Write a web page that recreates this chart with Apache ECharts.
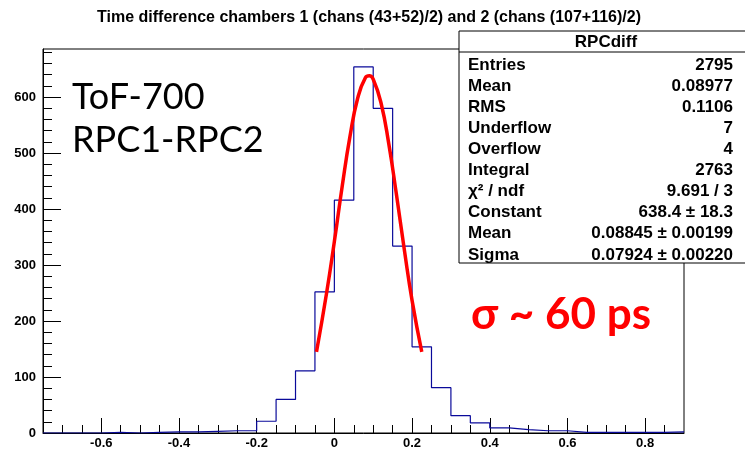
<!DOCTYPE html>
<html>
<head>
<meta charset="utf-8">
<script src="https://cdn.jsdelivr.net/npm/echarts@6/dist/echarts.min.js"></script>
<style>html,body{margin:0;padding:0;background:#fff}#c{width:745px;height:452px}</style>
</head>
<body>
<div id="c"></div>
<script>
// Histogram definition (bins of 0.05 from -0.75 to 0.9)
const xMin = -0.75;
const xMax = 0.9;
const binWidth = 0.05;
const binCounts = [0, 0, 0, 1, 0, 1, 2, 2, 3, 4, 4, 21, 60, 111, 252, 416, 654, 580, 334, 154, 81, 31, 18, 9, 6, 4, 4, 1, 1, 1, 1, 1, 2];
// Gaussian fit curve points
const fitX = [-0.046, -0.02, 0.0, 0.02, 0.04, 0.06, 0.08, 0.09, 0.10, 0.12, 0.14, 0.16, 0.18, 0.20, 0.225];
const fitY = [145, 250, 342, 440, 529, 598, 635, 638, 632, 590, 517, 425, 328, 237, 145];
// Axis tick labels
const xTickLabels = [-0.6, -0.4, -0.2, 0, 0.2, 0.4, 0.6, 0.8];
const xMinorTicks = [-0.75,-0.7,-0.65,-0.6,-0.55,-0.5,-0.45,-0.4,-0.35,-0.3,-0.25,-0.2,-0.15,-0.1,-0.05,0,0.05,0.1,0.15,0.2,0.25,0.3,0.35,0.4,0.45,0.5,0.55,0.6,0.65,0.7,0.75,0.8,0.85];
const yTickLabels = [0, 100, 200, 300, 400, 500, 600];
const yMinorTicks = [20,40,60,80,120,140,160,180,220,240,260,280,320,340,360,380,420,440,460,480,520,540,560,580,620,640,660,680];
const yMax = 686;
// Texts
const title = 'Time difference chambers 1 (chans (43+52)/2) and 2 (chans (107+116)/2)';
const statsName = 'RPCdiff';
const statsLabels = ['Entries', 'Mean', 'RMS', 'Underflow', 'Overflow', 'Integral', 'χ² / ndf', 'Constant', 'Mean', 'Sigma'];
const statsValues = ['2795', '0.08977', '0.1106', '7', '4', '2763', '9.691 / 3', '638.4 ± 18.3', '0.08845 ± 0.00199', '0.07924 ± 0.00220'];

const histData = binCounts.map((v, i) => [+(xMin + i * binWidth).toFixed(3), v]);
histData.push([xMax, binCounts[binCounts.length - 1]]);
const fitData = fitX.map((x, i) => [x, fitY[i]]);

const F = '"Liberation Sans", Arial, sans-serif';
const chart = echarts.init(document.getElementById('c'), null, {renderer: 'canvas'});

const statsGraphics = [];
const boxL = 459, boxT = 31, boxR = 760, boxB = 263;
statsGraphics.push({type: 'rect', shape: {x: boxL, y: boxT, width: boxR - boxL, height: boxB - boxT}, style: {fill: '#fff', stroke: '#000', lineWidth: 1}, z: 100});
statsGraphics.push({type: 'line', shape: {x1: boxL, y1: 52, x2: boxR, y2: 52}, style: {stroke: '#000', lineWidth: 1}, z: 101});
statsGraphics.push({type: 'text', x: 606, y: 42, style: {text: statsName, font: 'bold 17px ' + F, fill: '#000', align: 'center', verticalAlign: 'middle'}, z: 101});
statsLabels.forEach((t, i) => {
  const y = 65 + i * 21.1;
  statsGraphics.push({type: 'text', x: 468, y: y, style: {text: t, font: 'bold 17px ' + F, fill: '#000', align: 'left', verticalAlign: 'middle'}, z: 101});
  statsGraphics.push({type: 'text', x: 733, y: y, style: {text: statsValues[i], font: 'bold 17px ' + F, fill: '#000', align: 'right', verticalAlign: 'middle'}, z: 101});
});

const option = {
  backgroundColor: '#fff',
  animation: false,
  grid: {left: 43, right: 61, top: 49, bottom: 19, show: true, borderColor: '#000', borderWidth: 1, backgroundColor: '#fff'},
  xAxis: [
    {type: 'value', min: xMin, max: xMax, position: 'bottom',
      axisLine: {show: true, onZero: false, lineStyle: {color: '#000', width: 1}},
      axisTick: {show: true, inside: true, length: 15, customValues: xTickLabels, lineStyle: {color: '#000'}},
      axisLabel: {show: true, customValues: xTickLabels, margin: 4, color: '#000', fontFamily: F, fontWeight: 'bold', fontSize: 13, formatter: v => String(v)},
      splitLine: {show: false}},
    {type: 'value', min: xMin, max: xMax, position: 'bottom',
      axisLine: {show: false, onZero: false},
      axisTick: {show: true, inside: true, length: 8, customValues: xMinorTicks, lineStyle: {color: '#000'}},
      axisLabel: {show: false}, splitLine: {show: false}}
  ],
  yAxis: [
    {type: 'value', min: 0, max: yMax, position: 'left',
      axisLine: {show: true, onZero: false, lineStyle: {color: '#000', width: 1}},
      axisTick: {show: true, inside: true, length: 18, customValues: yTickLabels, lineStyle: {color: '#000'}},
      axisLabel: {show: true, customValues: yTickLabels, margin: 7, color: '#000', fontFamily: F, fontWeight: 'bold', fontSize: 13},
      splitLine: {show: false}},
    {type: 'value', min: 0, max: yMax, position: 'left',
      axisLine: {show: false, onZero: false},
      axisTick: {show: true, inside: true, length: 9, customValues: yMinorTicks, lineStyle: {color: '#000'}},
      axisLabel: {show: false}, splitLine: {show: false}}
  ],
  series: [
    {type: 'line', name: 'hist', data: histData, step: 'end', symbol: 'none', xAxisIndex: 0, yAxisIndex: 0,
      lineStyle: {color: '#0a0a9a', width: 1.2}, z: 3},
    {type: 'line', name: 'fit', data: fitData, smooth: true, symbol: 'none', xAxisIndex: 0, yAxisIndex: 0,
      lineStyle: {color: '#ff0000', width: 3.5}, z: 4}
  ],
  graphic: [
    {type: 'text', x: 369, y: 18, style: {text: title, font: 'bold 16px ' + F, fill: '#000', align: 'center', verticalAlign: 'middle'}, z: 50},
    {type: 'text', x: 72, y: 97, style: {text: 'ToF-700', font: '36px Lato, "Open Sans", sans-serif', fill: '#000', align: 'left', verticalAlign: 'middle'}, z: 50},
    {type: 'text', x: 72, y: 140, style: {text: 'RPC1-RPC2', font: '36px Lato, "Open Sans", sans-serif', fill: '#000', align: 'left', verticalAlign: 'middle'}, z: 50},
    {type: 'text', x: 471, y: 315, style: {text: 'σ ~ 60 ps', font: 'bold 44px Lato, "Open Sans", sans-serif', fill: '#ff0000', align: 'left', verticalAlign: 'middle'}, z: 50}
  ].concat(statsGraphics)
};
chart.setOption(option);
</script>
</body>
</html>
